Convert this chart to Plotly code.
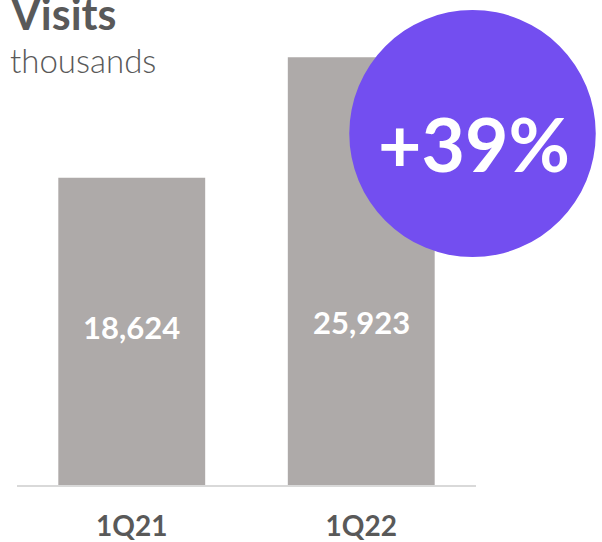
import plotly.graph_objects as go

categories = ["1Q21", "1Q22"]
values = [18624, 25923]
value_labels = ["18,624", "25,923"]
title_text = "Visits"
subtitle_text = "thousands"

growth = values[1] / values[0] - 1
growth_text = "+{:.0f}%".format(growth * 100)

BAR = "#aeaaa9"
GREY = "#595959"
PURPLE = "#734ef0"
FONT = "Lato"

fig = go.Figure()
fig.add_trace(go.Bar(
    x=categories, y=values, width=0.64,
    marker=dict(color=BAR, line=dict(width=0)),
    hoverinfo="skip",
))

# value labels inside bars
for c, lab, yp in zip(categories, value_labels, [0.326, 0.336]):
    fig.add_annotation(x=c, y=yp, xref="x", yref="paper", text=lab, showarrow=False,
                       font=dict(family=FONT, size=31, color="white", weight="bold"),
                       xanchor="center", yanchor="middle")

# title + subtitle
fig.add_annotation(x=-0.0196, y=0.973, xref="paper", yref="paper", text=title_text,
                   showarrow=False, xanchor="left", yanchor="middle",
                   font=dict(family=FONT, size=43, color=GREY, weight="bold"))
fig.add_annotation(x=-0.0196, y=0.876, xref="paper", yref="paper", text=subtitle_text,
                   showarrow=False, xanchor="left", yanchor="middle",
                   font=dict(family=FONT, size=33, color=GREY, weight=300))

# growth badge
fig.add_shape(type="circle", xref="paper", yref="paper",
              x0=0.7239, x1=1.2609, y0=0.4701, y1=0.9794,
              fillcolor=PURPLE, line=dict(width=0), layer="above")
fig.add_annotation(x=0.9957, y=0.705, xref="paper", yref="paper", text=growth_text,
                   showarrow=False, xanchor="center", yanchor="middle",
                   font=dict(family=FONT, size=75, color="white", weight="bold"))

fig.update_layout(
    width=602, height=542,
    margin=dict(l=17, r=126, t=0, b=57, autoexpand=False),
    paper_bgcolor="white", plot_bgcolor="white",
    showlegend=False,
    bargap=0.36,
    xaxis=dict(showline=True, linecolor="#d9d9d9", linewidth=2, showgrid=False,
               ticks="", ticklabelstandoff=15, range=[-0.5, 1.5], automargin=False,
               tickfont=dict(family=FONT, size=28, color=GREY, weight="bold")),
    yaxis=dict(visible=False, range=[0, 29400], showgrid=False, automargin=False),
)

fig.write_html("out.html")
